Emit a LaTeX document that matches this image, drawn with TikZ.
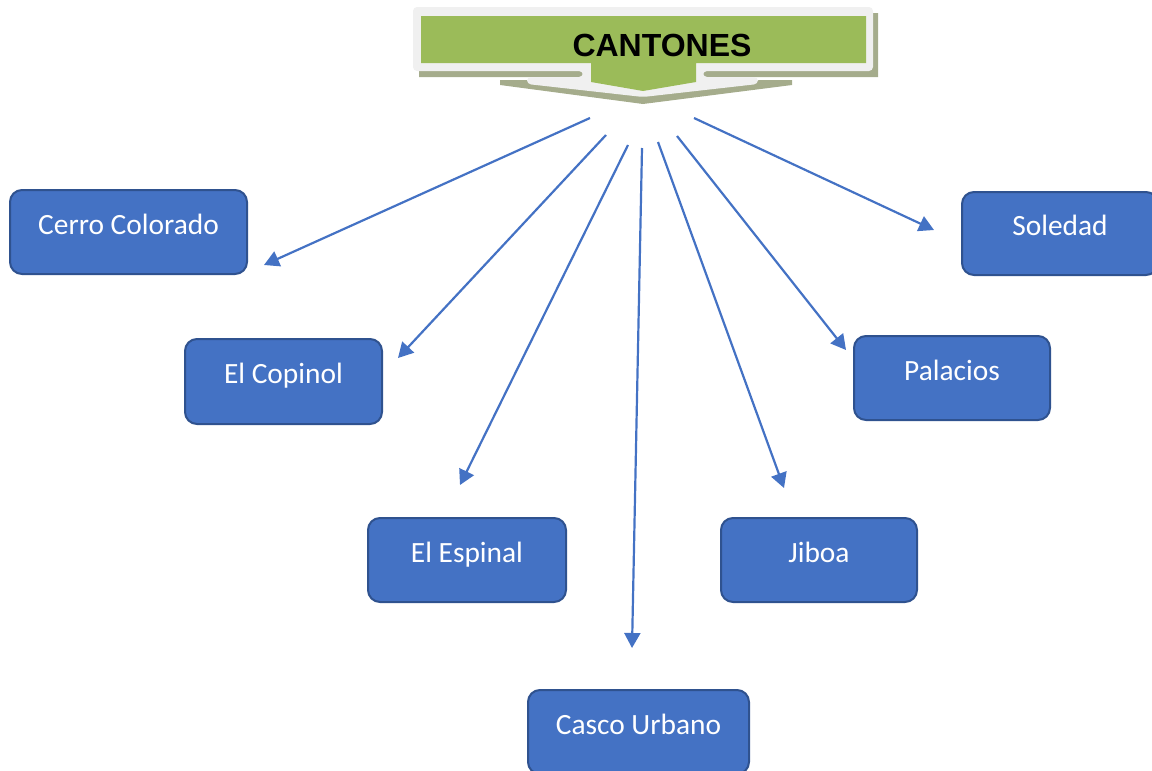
\documentclass[tikz,border=0pt]{standalone}
\usepackage{fontspec}
\setmainfont{Carlito}
\newfontfamily\titlefont{Liberation Sans}
\usetikzlibrary{arrows.meta}
\definecolor{boxfill}{HTML}{4472C4}
\definecolor{boxline}{HTML}{2F528F}
\definecolor{titlegreen}{HTML}{9BBB59}
\definecolor{titlerim}{HTML}{F0F0F0}
\definecolor{titleshadow}{RGB}{165,172,140}
\tikzset{
  cantonbox/.style={draw=boxline, fill=boxfill, line width=1pt, rounded corners=6pt,
    text=white, font=\fontsize{14.7pt}{17pt}\selectfont, text height=9.5pt, text depth=0pt,
    inner sep=0pt, minimum height=42pt},
  link/.style={draw=boxfill, line width=1.1pt, -{Triangle[length=7.5pt,width=8pt]}}
}
\newcommand{\up}[1]{\raisebox{3.75pt}{#1}}
\begin{document}
\begin{tikzpicture}[x=0.5pt,y=-0.5pt]
\useasboundingbox (0,0) rectangle (1152,771);
\begin{scope}
\clip (0,0) rectangle (1152,771);
% title banner
\fill[titleshadow] (419,13) -- (878,13) -- (878,77) -- (709,77) -- (709,80) -- (792,80) -- (792,85) -- (643,104) -- (500,85) -- (500,80) -- (589,80) -- (589,77) -- (419,77) -- cycle;
\fill[titlerim, rounded corners=2pt] (413,7) -- (873,7) -- (873,71) -- (703,71) -- (703,77) -- (758,77) -- (758,84) -- (643,97) -- (527,84) -- (527,77) -- (583,77) -- (583,71) -- (413,71) -- cycle;
\fill[titlegreen] (421,16) -- (866,16) -- (866,63) -- (696,63) -- (696,82) -- (643,91) -- (591,82) -- (591,63) -- (421,63) -- cycle;
\node[font=\titlefont\bfseries\fontsize{16pt}{18pt}\selectfont, inner sep=0pt] (title) at (662,45) {CANTONES};
% boxes
\node[cantonbox, minimum width=118.5pt] (cc) at (128.5,232) {\up{Cerro Colorado}};
\node[cantonbox, minimum width=98.5pt, minimum height=42.5pt] (cp) at (283.5,381.5) {\up{El Copinol}};
\node[cantonbox, minimum width=99pt] (es) at (467,560) {\up{El Espinal}};
\node[cantonbox, minimum width=110.5pt] (cu) at (638.5,732) {\up{Casco Urbano}};
\node[cantonbox, minimum width=98pt] (ji) at (819,560) {\up{Jiboa}};
\node[cantonbox, minimum width=98pt] (pa) at (952,378) {\up{Palacios}};
\node[cantonbox, minimum width=98pt, minimum height=41.5pt] (so) at (1060,233.5) {\up{Soledad}};
% arrow ends
\coordinate (s1) at (590,118); \coordinate (e1) at (264,265);
\coordinate (s2) at (606,135); \coordinate (e2) at (398,358);
\coordinate (s3) at (628,145); \coordinate (e3) at (460,485);
\coordinate (s4) at (642,148); \coordinate (e4) at (632,648);
\coordinate (s5) at (658,142); \coordinate (e5) at (784,488);
\coordinate (s6) at (677,136); \coordinate (e6) at (846,350);
\coordinate (s7) at (694,118); \coordinate (e7) at (934,230);
\draw[link] (s1) -- (e1);
\draw[link] (s2) -- (e2);
\draw[link] (s3) -- (e3);
\draw[link] (s4) -- (e4);
\draw[link] (s5) -- (e5);
\draw[link] (s6) -- (e6);
\draw[link] (s7) -- (e7);
\end{scope}
\end{tikzpicture}
\end{document}
